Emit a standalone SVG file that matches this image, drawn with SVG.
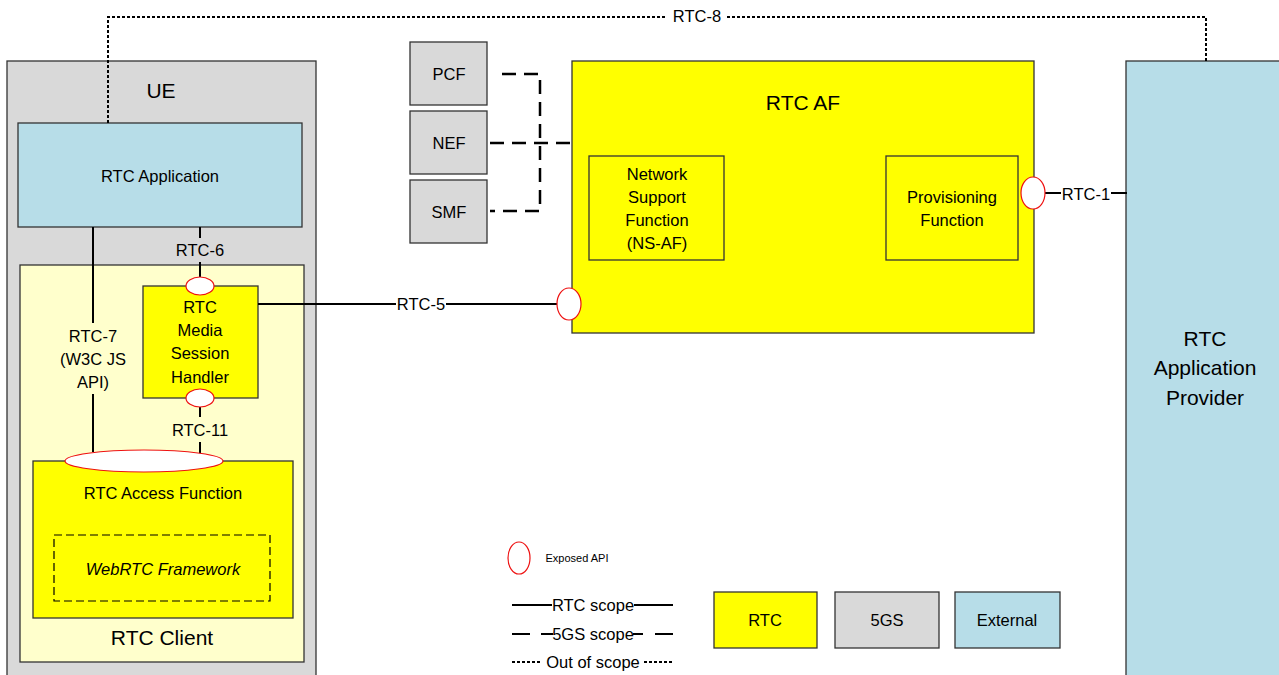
<svg xmlns="http://www.w3.org/2000/svg" width="1279" height="675" viewBox="0 0 1279 675">
<style>
text{font-family:"Liberation Sans",Arial,sans-serif;fill:#000;text-anchor:middle}
.t{font-size:16.5px}
.big{font-size:21px}
.s{font-size:11px}
.box{stroke:#333;stroke-width:1.3}
.y{fill:#ffff00}
.g{fill:#d9d9d9}
.b{fill:#b7dde8}
.api{fill:#fff;stroke:#ee1111;stroke-width:1.2}
.solid{stroke:#000;stroke-width:2;fill:none}
.dash{stroke:#000;stroke-width:2.5;fill:none;stroke-dasharray:14 8}
.dot{stroke:#000;stroke-width:2;fill:none;stroke-dasharray:3 2}
</style>
<rect width="1279" height="675" fill="#fff"/>
<g id="ue"><rect class="box g" x="7" y="61" width="309" height="620"/><text class="big" x="161" y="98">UE</text></g>
<g id="rtc-app"><rect class="box b" x="18" y="123" width="284" height="104"/><text class="t" x="160" y="182">RTC Application</text></g>
<g id="rtc-client"><rect class="box" fill="#ffffcc" x="20" y="265" width="284" height="397"/><text class="big" x="162" y="645">RTC Client</text></g>
<g id="msh"><rect class="box y" x="143" y="286" width="115" height="112"/>
<text class="t" x="200" y="313">RTC</text><text class="t" x="200" y="336">Media</text><text class="t" x="200" y="359">Session</text><text class="t" x="200" y="383">Handler</text></g>
<g id="access"><rect class="box y" x="33" y="461" width="260" height="157"/><text class="t" x="163" y="499">RTC Access Function</text>
<rect x="54" y="535" width="216" height="66" fill="none" stroke="#000" stroke-width="1.2" stroke-dasharray="8 4"/>
<text class="t" x="163" y="575" font-style="italic">WebRTC Framework</text></g>
<g id="pcf"><rect class="box g" x="410" y="42" width="77" height="63"/><text class="t" x="449" y="80">PCF</text></g>
<g id="nef"><rect class="box g" x="410" y="111" width="77" height="63"/><text class="t" x="449" y="149">NEF</text></g>
<g id="smf"><rect class="box g" x="410" y="180" width="77" height="63"/><text class="t" x="449" y="218">SMF</text></g>
<g id="rtc-af"><rect class="box y" x="572" y="61" width="462" height="272"/><text class="big" x="803" y="110">RTC AF</text>
<rect class="box" fill="none" x="589" y="156" width="135" height="104"/>
<text class="t" x="657" y="180">Network</text><text class="t" x="657" y="203">Support</text><text class="t" x="657" y="226">Function</text><text class="t" x="657" y="249">(NS-AF)</text>
<rect class="box" fill="none" x="886" y="156" width="132" height="104"/>
<text class="t" x="952" y="203">Provisioning</text><text class="t" x="952" y="226">Function</text></g>
<g id="provider"><rect class="box b" x="1126" y="61" width="160" height="620"/>
<text class="big" x="1205" y="346">RTC</text><text class="big" x="1205" y="375">Application</text><text class="big" x="1205" y="405">Provider</text></g>
<g id="connectors">
<path class="dot" d="M108 123V17H1206V61"/>
<rect x="667" y="8" width="60" height="18" fill="#fff"/>
<text class="t" x="697" y="22">RTC-8</text>
<path class="solid" d="M200 227V238M200 262V277"/>
<text class="t" x="200" y="256">RTC-6</text>
<path class="solid" d="M93 227V323M93 394V452"/>
<text class="t" x="93" y="342">RTC-7</text><text class="t" x="93" y="365">(W3C JS</text><text class="t" x="93" y="388">API)</text>
<path class="solid" d="M200 407V417M200 442V455"/>
<text class="t" x="200" y="436">RTC-11</text>
<path class="solid" d="M258 304H396M446 304H558"/>
<text class="t" x="421" y="310">RTC-5</text>
<path class="solid" d="M1045 193H1061M1111 193H1127"/>
<text class="t" x="1086" y="200">RTC-1</text>
<path class="dash" d="M502 74H540V211H490M490 143H572"/>
<ellipse class="api" cx="200" cy="286" rx="14" ry="9"/>
<ellipse class="api" cx="200" cy="398" rx="14" ry="9"/>
<ellipse class="api" cx="144" cy="461" rx="79" ry="11"/>
<ellipse class="api" cx="569" cy="304" rx="12" ry="16"/>
<ellipse class="api" cx="1033" cy="193" rx="12" ry="16"/>
</g>
<g id="legend">
<ellipse class="api" cx="519" cy="558" rx="11" ry="16"/>
<text class="s" x="577" y="562">Exposed API</text>
<path class="solid" d="M512 605H552M634 605H673"/>
<text class="t" x="593" y="611">RTC scope</text>
<path class="solid" stroke-width="2.5" d="M512 634H530M541 634H553M633 634H643M655 634H673"/>
<text class="t" x="593" y="640">5GS scope</text>
<path class="dot" d="M512 662H542M644 662H673"/>
<text class="t" x="593" y="668">Out of scope</text>
<rect class="box y" x="714" y="592" width="103" height="56"/><text class="t" x="765" y="626">RTC</text>
<rect class="box g" x="835" y="592" width="104" height="56"/><text class="t" x="887" y="626">5GS</text>
<rect class="box b" x="955" y="592" width="105" height="56"/><text class="t" x="1007" y="626">External</text>
</g>
</svg>
